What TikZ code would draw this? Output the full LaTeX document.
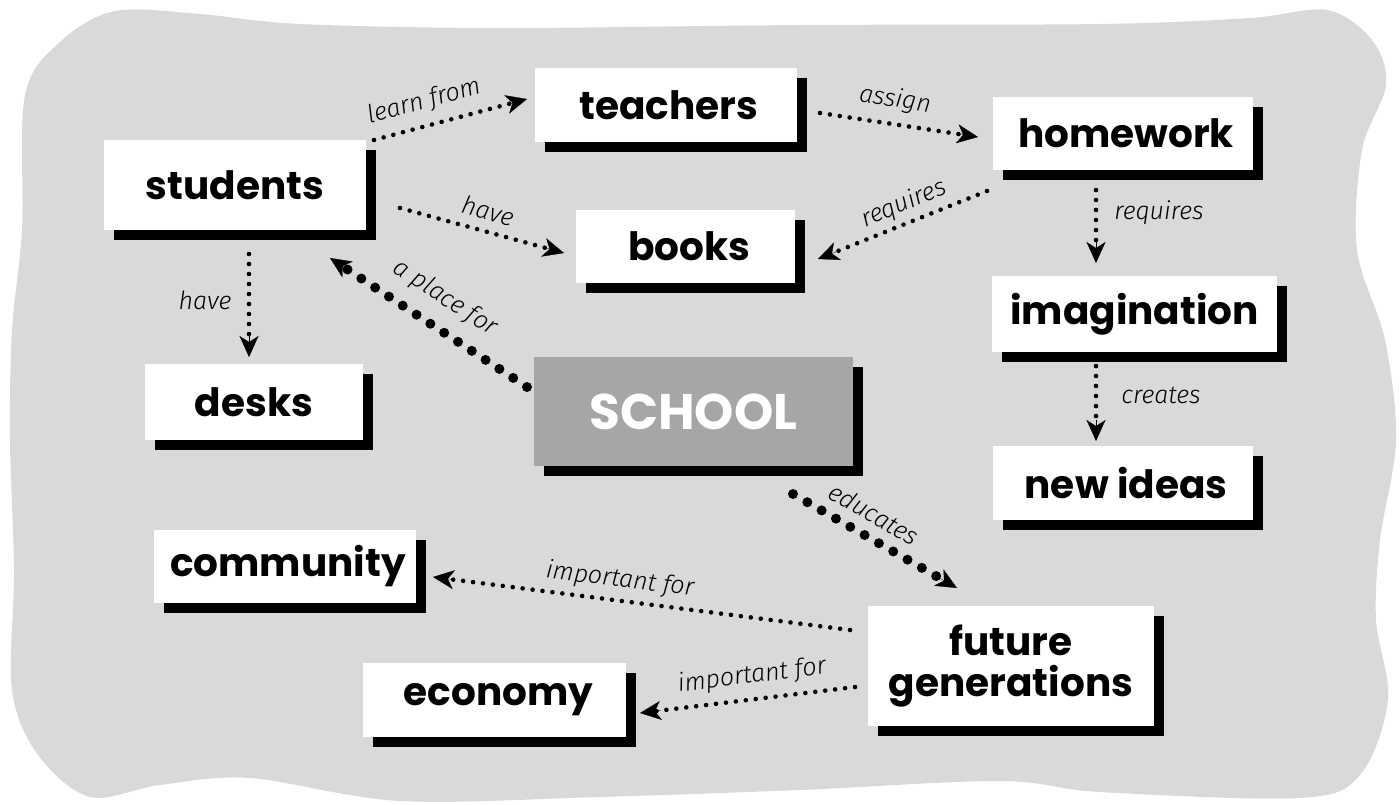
\documentclass[tikz,border=0pt]{standalone}
\usepackage{fontspec}
\setmainfont{Poppins}
\newfontfamily\lblfont{Fira Sans Light}[ItalicFont={Fira Sans Light Italic}]
\usetikzlibrary{arrows.meta,calc,shadows}
\definecolor{bggray}{HTML}{D9D9D9}
\definecolor{schoolgray}{HTML}{A6A6A6}
\tikzset{
  cbox/.style={fill=white, inner sep=0pt, align=center,
    font=\fontsize{39}{41}\selectfont\bfseries,
    drop shadow={shadow xshift=10pt, shadow yshift=-10pt, opacity=1, fill=black}},
  sbox/.style={cbox, fill=schoolgray, text=white, font=\fontsize{50}{52}\selectfont\bfseries},
  smalldots/.style={line width=4.6pt, line cap=round, dash pattern=on 0pt off 10pt},
  bigdots/.style={line width=10pt, line cap=round, dash pattern=on 0pt off 16.5pt},
  tiphead/.style={line width=0.3pt, -{Stealth[length=21pt,width=19pt,inset=6pt]}},
  lbl/.style={font=\lblfont\itshape\fontsize{25}{27}\selectfont, inner sep=0pt}
}
\begin{document}
\begin{tikzpicture}[x=1pt,y=-1pt]
\useasboundingbox (0,0) rectangle (1400,804);
% background blob
\fill[bggray] plot[smooth cycle, tension=0.55] coordinates {
 (25,95) (60,42) (115,11) (200,14) (300,24) (500,28) (800,25) (1100,24)
 (1250,18) (1327,10) (1372,40) (1386,85) (1362,150) (1357,250) (1385,340)
 (1396,440) (1380,540) (1376,620) (1388,700) (1360,775) (1300,798)
 (1100,792) (1000,781) (800,790) (600,797) (400,801) (250,778) (160,785)
 (90,797) (38,755) (12,690) (14,570) (10,440) (12,330) (22,230) };
% nodes
\node[cbox, minimum width=262pt, minimum height=74pt] (teachers) at (666,105) {\hspace*{6pt}teachers};
\node[cbox, minimum width=260pt, minimum height=73pt] (homework) at (1123,133.5) {\hspace*{6pt}homework};
\node[cbox, minimum width=262pt, minimum height=90pt] (students) at (235,185) {students};
\node[cbox, minimum width=219pt, minimum height=73pt] (books) at (685.5,246.5) {\hspace*{8pt}books};
\node[cbox, minimum width=285pt, minimum height=76pt] (imagination) at (1134.5,314) {imagination};
\node[cbox, minimum width=218pt, minimum height=76pt] (desks) at (254,402) {desks};
\node[sbox, minimum width=319pt, minimum height=109pt] (school) at (693.5,411.5) {SCHOOL};
\node[cbox, minimum width=260pt, minimum height=74pt] (newideas) at (1123,483) {\hspace*{6pt}new ideas};
\node[cbox, minimum width=262pt, minimum height=73pt] (community) at (285,566.5) {\hspace*{6pt}community};
\node[cbox, minimum width=286pt, minimum height=120pt] (future) at (1011,666) {future\\generations};
\node[cbox, minimum width=263pt, minimum height=74pt] (economy) at (494.5,700) {\hspace*{8pt}economy};
% connector end points
\coordinate (a1s) at (374,140);  \coordinate (a1e) at (527,99);
\coordinate (a2s) at (820,113);  \coordinate (a2e) at (978,137);
\coordinate (a3s) at (400,208);  \coordinate (a3e) at (564,253);
\coordinate (a4s) at (987,191);  \coordinate (a4e) at (818,259);
\coordinate (a5s) at (1096,190); \coordinate (a5e) at (1096,263);
\coordinate (a6s) at (1096,366); \coordinate (a6e) at (1096,441);
\coordinate (a7s) at (249,254);  \coordinate (a7e) at (249,357);
\coordinate (a8s) at (527,387);  \coordinate (a8e) at (330,258);
\coordinate (a9s) at (793,494);  \coordinate (a9e) at (957,588);
\coordinate (a10s) at (850,630); \coordinate (a10e) at (433,577);
\coordinate (a11s) at (855,687); \coordinate (a11e) at (640,713);
% connectors
\foreach \i in {1,2,3,4,5,6,7,10,11}{
  \draw[smalldots, shorten >=16pt] (a\i s) -- (a\i e);
  \draw[tiphead] ($(a\i e)!21pt!(a\i s)$) -- (a\i e);
}
\foreach \i in {8,9}{
  \draw[bigdots, shorten >=18pt] (a\i s) -- (a\i e);
  \draw[tiphead] ($(a\i e)!21pt!(a\i s)$) -- (a\i e);
}
% labels
\node[lbl, rotate=15] (l1) at (424,102) {learn from};
\node[lbl, rotate=-9] (l2) at (895,100) {assign};
\node[lbl, rotate=-15] (l3) at (488,211) {have};
\node[lbl, rotate=22] (l4) at (904,204) {requires};
\node[lbl] (l5) at (1159,213) {requires};
\node[lbl] (l6) at (1161,395) {creates};
\node[lbl] (l7) at (205,300) {have};
\node[lbl, rotate=-33] (l8) at (445,298) {a place for};
\node[lbl, rotate=-30] (l9) at (874,514) {educates};
\node[lbl, rotate=-7] (l10) at (620,580) {important for};
\node[lbl, rotate=7] (l11) at (752,676) {important for};
\end{tikzpicture}
\end{document}
